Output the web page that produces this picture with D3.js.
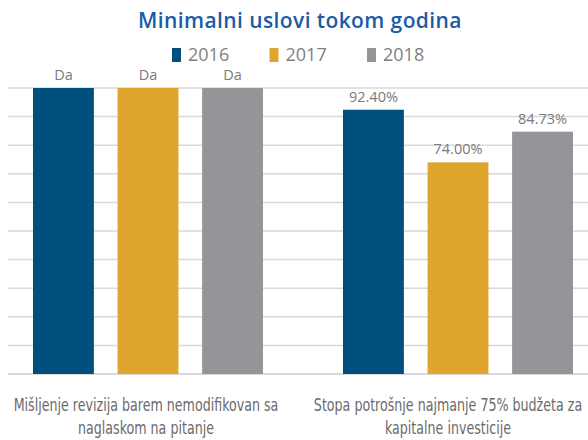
<!DOCTYPE html>
<meta charset="utf-8">
<style>
body { margin: 0; background: #fff; }
text { font-family: "Open Sans", sans-serif; }
.cat { font-family: "DejaVu Sans Condensed", "Liberation Sans", sans-serif; font-size: 18px; fill: #6b6b6b; }
.val { font-size: 14.5px; fill: #7a7a7a; }
</style>
<svg width="588" height="440"></svg>
<script src="https://d3js.org/d3.v7.min.js"></script>
<script>

// categories (each label split in two lines) and series
var categories = ["Mišljenje revizija barem nemodifikovan sa naglaskom na pitanje",
                  "Stopa potrošnje najmanje 75% budžeta za kapitalne investicije"];
var catLines = [["Mišljenje revizija barem nemodifikovan sa", "naglaskom na pitanje"],
                ["Stopa potrošnje najmanje 75% budžeta za", "kapitalne investicije"]];
var years = ["2016", "2017", "2018"];
var colors = ["#00507f", "#e0a52c", "#939598"];
// "Da" (yes) is drawn as a full bar
var values2016 = [100, 92.40];
var values2017 = [100, 74.00];
var values2018 = [100, 84.73];
var labels2016 = ["Da", "92.40%"];
var labels2017 = ["Da", "74.00%"];
var labels2018 = ["Da", "84.73%"];
var yTicks = [0, 10, 20, 30, 40, 50, 60, 70, 80, 90, 100];

var series = [values2016, values2017, values2018];
var seriesLabels = [labels2016, labels2017, labels2018];

var svg = d3.select("svg");

var y = d3.scaleLinear().domain([0, 100]).range([374, 88]);
var x0 = d3.scaleBand().domain(categories).range([-7, 613]);
var x1 = d3.scaleBand().domain(years).range([40, 270]).paddingInner(0.28);

// title
svg.append("text")
  .attr("x", 300).attr("y", 28)
  .attr("text-anchor", "middle")
  .style("font-size", "21px")
  .style("font-weight", 600)
  .style("letter-spacing", "0.4px")
  .style("fill", "#1c5ba7")
  .text("Minimalni uslovi tokom godina");

// legend
var legend = svg.append("g").selectAll("g")
  .data(years).join("g")
  .attr("transform", function(d, i) { return "translate(" + (172 + i * 97.5) + ",0)"; });
legend.append("rect")
  .attr("x", 0).attr("y", 48).attr("width", 9).attr("height", 14)
  .attr("fill", function(d, i) { return colors[i]; });
legend.append("text")
  .attr("x", 16).attr("y", 61)
  .style("font-size", "18px")
  .style("font-weight", 400)
  .style("fill", "#7f7f7f")
  .text(function(d) { return d; });

// gridlines
svg.append("g").selectAll("line")
  .data(yTicks).join("line")
  .attr("x1", 8).attr("x2", 588)
  .attr("y1", function(d) { return y(d); })
  .attr("y2", function(d) { return y(d); })
  .attr("stroke", "#d9d9d9")
  .attr("stroke-width", function(d) { return d === 0 ? 2 : 1.5; });

// bars
var groups = svg.append("g").selectAll("g")
  .data(categories).join("g")
  .attr("transform", function(d) { return "translate(" + x0(d) + ",0)"; });

groups.each(function(c, ci) {
  var g = d3.select(this);
  years.forEach(function(yr, si) {
    var v = series[si][ci];
    g.append("rect")
      .attr("x", x1(yr))
      .attr("y", y(v))
      .attr("width", x1.bandwidth())
      .attr("height", y(0) - y(v))
      .attr("fill", colors[si]);
    g.append("text")
      .attr("class", "val")
      .attr("x", x1(yr) + x1.bandwidth() / 2)
      .attr("y", y(v) - 8)
      .attr("text-anchor", "middle")
      .text(seriesLabels[si][ci]);
  });
});

// category labels, squeezed horizontally to look like a condensed face
var squeeze = null;
groups.each(function(c, ci) {
  var g = d3.select(this);
  catLines[ci].forEach(function(line, li) {
    var t = g.append("text")
      .attr("class", "cat")
      .attr("text-anchor", "middle")
      .text(line);
    var w = t.node().getComputedTextLength();
    if (squeeze === null) squeeze = 265 / w;
    t.attr("transform", "translate(" + (x0.bandwidth() / 2 - 2 - ci * 8) + "," + (411 + li * 23) + ") scale(" + squeeze + ",1)");
  });
});

</script>
